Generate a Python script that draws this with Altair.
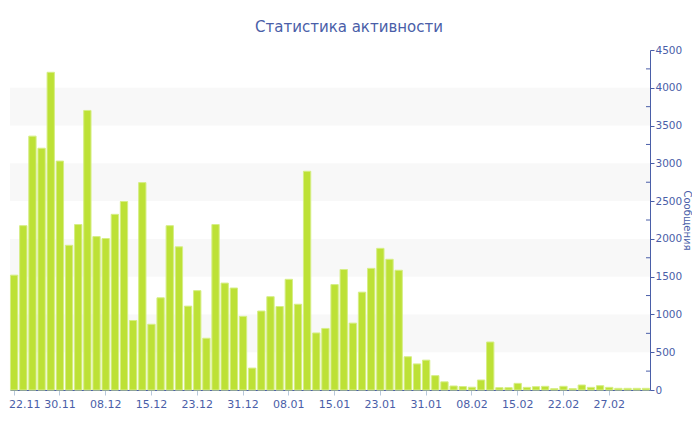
import altair as alt
import pandas as pd

dates = [
    "22.11", "23.11", "25.11", "26.11", "28.11", "30.11", "01.12", "03.12", "04.12", "06.12",
    "08.12", "09.12", "11.12", "12.12", "14.12", "15.12", "17.12", "18.12", "20.12", "21.12",
    "23.12", "24.12", "26.12", "27.12", "29.12", "31.12", "01.01", "03.01", "04.01", "06.01",
    "08.01", "09.01", "11.01", "12.01", "14.01", "15.01", "17.01", "18.01", "20.01", "21.01",
    "23.01", "24.01", "26.01", "27.01", "29.01", "31.01", "01.02", "03.02", "04.02", "06.02",
    "08.02", "09.02", "11.02", "12.02", "14.02", "15.02", "17.02", "18.02", "19.02", "20.02",
    "22.02", "23.02", "24.02", "25.02", "26.02", "27.02", "28.02", "01.03", "02.03", "03.03",
]
counts = [
    1520, 2175, 3360, 3200, 4205, 3030, 1915, 2190, 3700, 2030,
    2005, 2325, 2495, 920, 2745, 870, 1220, 2175, 1895, 1110,
    1315, 685, 2190, 1415, 1350, 975, 290, 1045, 1235, 1105,
    1465, 1135, 2895, 755, 815, 1395, 1595, 885, 1295, 1610,
    1875, 1730, 1585, 440, 345, 395, 190, 108, 53, 46,
    37, 132, 635, 31, 31, 88, 35, 44, 49, 18,
    49, 18, 66, 35, 57, 35, 22, 22, 22, 22,
]
tick_labels = ["22.11", "30.11", "08.12", "15.12", "23.12", "31.12", "08.01",
               "15.01", "23.01", "31.01", "08.02", "15.02", "22.02", "27.02"]
major_ticks = [0, 500, 1000, 1500, 2000, 2500, 3000, 3500, 4000, 4500]
minor_ticks = [250, 750, 1250, 1750, 2250, 2750, 3250, 3750, 4250]
band_lo = [500, 1500, 2500, 3500]
band_hi = [1000, 2000, 3000, 4000]

BLUE = "#4a5ea8"
FONT = "DejaVu Sans"

bars_df = pd.DataFrame({"date": dates, "count": counts})
bands_df = pd.DataFrame({"lo": band_lo, "hi": band_hi})
minor_df = pd.DataFrame({"v": minor_ticks})

yscale = alt.Scale(domain=[0, 4500], nice=False, zero=True)
yaxis = alt.Axis(
    orient="right", values=major_ticks, format="d", title="Сообщения",
    labelColor=BLUE, labelFont=FONT, labelFontSize=10.5, labelPadding=1,
    domainColor=BLUE, tickColor=BLUE, tickSize=4, grid=False,
    titleColor=BLUE, titleFont=FONT, titleFontSize=10,
    titleFontWeight="normal", titleAngle=90, titlePadding=0,
)

bands = alt.Chart(bands_df).mark_rect(color="#f8f8f8").encode(
    y=alt.Y("lo:Q", scale=yscale, axis=yaxis),
    y2="hi:Q",
    x=alt.value(0),
    x2=alt.value(640),
)

bars = alt.Chart(bars_df).mark_bar(
    color="#bde136", stroke="#d6ee86", strokeWidth=1
).encode(
    x=alt.X(
        "date:N", sort=None,
        scale=alt.Scale(paddingInner=0.2, paddingOuter=0.05),
        axis=alt.Axis(
            values=tick_labels, title=None, labelAngle=0,
            labelColor=BLUE, labelFont=FONT, labelFontSize=11, labelPadding=3,
            labelFlush=10, labelFlushOffset=5,
            domainColor=BLUE, domainWidth=1, tickColor="#b8c8dc", tickSize=5,
            grid=False,
        ),
    ),
    y=alt.Y("count:Q", scale=yscale, axis=yaxis),
)

minor = alt.Chart(minor_df).mark_rule(color=BLUE, strokeWidth=1).encode(
    y=alt.Y("v:Q", scale=yscale, axis=yaxis),
    x=alt.value(636),
    x2=alt.value(640),
)

chart = alt.layer(bands, bars, minor).properties(
    width=640,
    height=340,
    padding={"left": 2, "top": 42, "right": 42, "bottom": 32},
    autosize=alt.AutoSizeParams(type="none"),
    title=alt.TitleParams(
        "Статистика активности", font=FONT, fontSize=15, fontWeight="normal",
        color=BLUE, anchor="middle", dx=19, dy=17, offset=12, baseline="bottom",
    ),
).configure_view(stroke=None)

chart.save("out.html", embed_options={"renderer": "svg", "actions": False})
